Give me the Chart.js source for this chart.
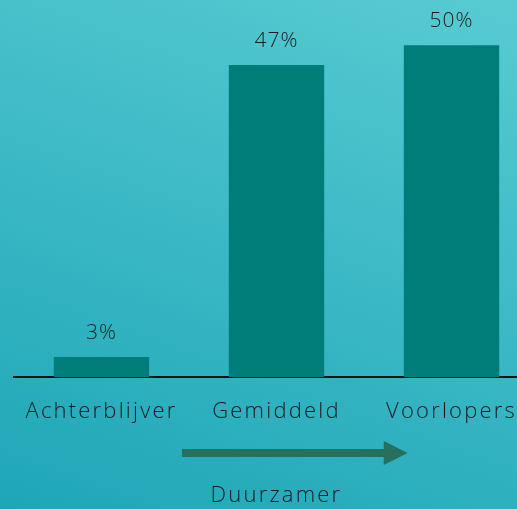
<!DOCTYPE html>
<html>
<head>
<meta charset="utf-8">
<script src="https://cdn.jsdelivr.net/npm/chart.js@4"></script>
<style>
  html, body { margin: 0; padding: 0; overflow: hidden; }
  body {
    width: 517px; height: 509px;
    background: linear-gradient(20deg, #1ea6b7 0%, #3bb8c5 50%, #58cbd2 100%);
  }
  #wrap { width: 540px; height: 509px; }
</style>
</head>
<body>
<div id="wrap"><canvas id="myChart"></canvas></div>
<script>
// data
var categories = ['Achterblijver', 'Gemiddeld', 'Voorlopers'];
var shares = [3, 47, 50];
var axisTitle = 'Duurzamer';

var fontFamily = '"Open Sans", Lato, sans-serif';
var textColor = '#1b1b1b';

// wider letter spacing, like the original typeface
var spacing = {
    id: 'spacing',
    beforeDraw: function (chart) { chart.ctx.letterSpacing = '2.2px'; }
};

// labels above bars
var barLabels = {
    id: 'barLabels',
    afterDatasetsDraw: function (chart) {
        var ctx = chart.ctx;
        var meta = chart.getDatasetMeta(0);
        ctx.save();
        ctx.letterSpacing = '1px';
        ctx.font = '300 21px ' + fontFamily;
        ctx.fillStyle = textColor;
        ctx.textAlign = 'center';
        ctx.textBaseline = 'middle';
        meta.data.forEach(function (bar, i) {
            ctx.fillText(shares[i] + '%', bar.x, bar.y - 24);
        });
        ctx.restore();
    }
};

// arrow under the labels
var arrow = {
    id: 'arrow',
    afterDraw: function (chart) {
        var x = chart.scales.x;
        var ctx = chart.ctx;
        var x0 = x.getPixelForValue(0.46);
        var x1 = x.getPixelForValue(1.75);
        var y = 453;
        ctx.save();
        ctx.fillStyle = '#26705f';
        ctx.fillRect(x0, y - 4, x1 - x0 - 22, 8);
        ctx.beginPath();
        ctx.moveTo(x1 - 24, y - 12);
        ctx.lineTo(x1, y);
        ctx.lineTo(x1 - 24, y + 12);
        ctx.closePath();
        ctx.fill();
        ctx.restore();
    }
};

var ctx = document.getElementById('myChart').getContext('2d');
var myChart = new Chart(ctx, {
    type: 'bar',
    data: {
        labels: categories,
        datasets: [{
            data: shares,
            backgroundColor: '#007d78',
            borderWidth: 0,
            barPercentage: 0.545,
            categoryPercentage: 1
        }]
    },
    options: {
        responsive: true,
        maintainAspectRatio: false,
        animation: false,
        layout: { padding: { left: 14, right: 1, top: 0, bottom: 0 } },
        plugins: {
            legend: { display: false },
            tooltip: { enabled: false }
        },
        scales: {
            y: {
                display: false,
                min: 0,
                max: 56.8
            },
            x: {
                grid: { display: false, drawTicks: false },
                border: { display: true, color: '#111', width: 2 },
                ticks: {
                    color: textColor,
                    font: { family: fontFamily, size: 22, weight: '300' },
                    padding: 22,
                    maxRotation: 0,
                    autoSkip: false
                },
                title: {
                    display: true,
                    text: axisTitle,
                    color: textColor,
                    font: { family: fontFamily, size: 22, weight: '300' },
                    padding: { top: 0, bottom: 0 }
                },
                afterFit: function (scale) { scale.height = 132; }
            }
        }
    },
    plugins: [spacing, barLabels, arrow]
});
</script>
</body>
</html>
